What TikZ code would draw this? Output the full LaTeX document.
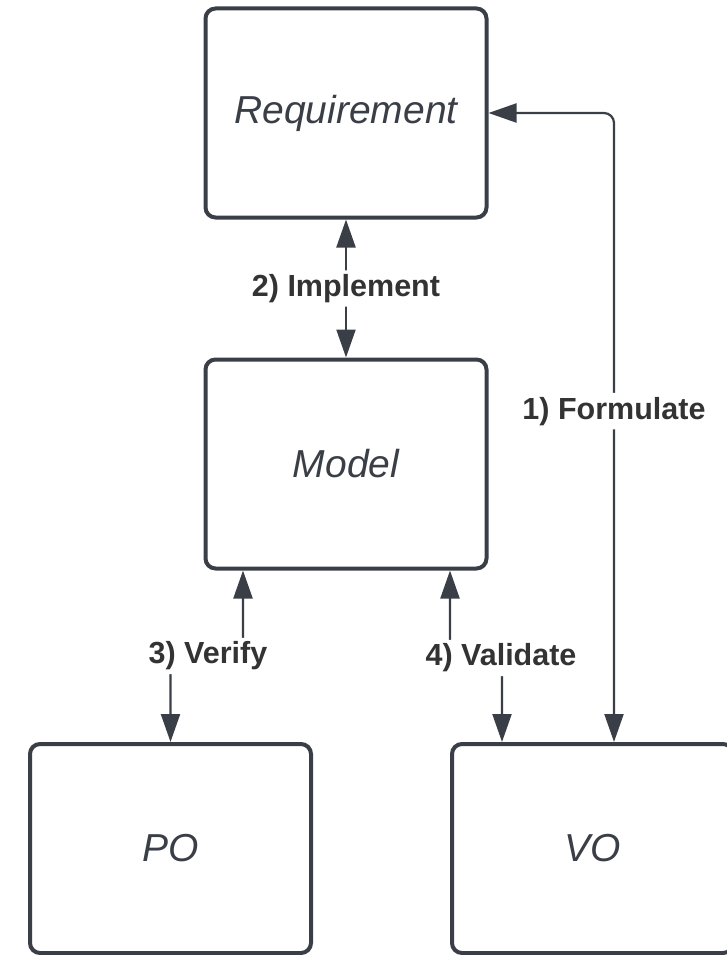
\documentclass[tikz,border=0pt]{standalone}
\usepackage{fontspec}
\setmainfont{Liberation Sans}
\usetikzlibrary{arrows.meta}
\definecolor{linegray}{HTML}{3A3F47}
\definecolor{labgray}{HTML}{333333}
\begin{document}
\begin{tikzpicture}[x=1pt,y=-1pt,
  box/.style = {rectangle,rounded corners=10pt,draw=linegray,line width=4pt,fill=white,
                minimum width=281pt,minimum height=209pt,text=linegray,
                font=\fontsize{39}{41}\selectfont\itshape},
  conn/.style = {draw=linegray,line width=2.2pt,rounded corners=10pt,
                 {Triangle[length=28pt,width=19pt]}-{Triangle[length=28pt,width=19pt]}},
  lab/.style = {fill=white,text=labgray,inner sep=4pt,
                font=\fontsize{30.5}{32}\selectfont\bfseries}]
\clip (0,0) rectangle (727,955);
\foreach \name/\x/\y/\txt in {req/346/113/Requirement, model/346/464/Model,
                              po/170.5/848.5/PO, vo/592.5/848.5/VO}
    \node[box] (\name) at (\x,\y) {\txt};
\coordinate (vmid) at (208,656);
\coordinate (vamid) at (501,658);
\draw[conn] (req) -- (model) node[lab,midway] {2) Implement};
\draw[conn] ([xshift=21.5pt]vo.north) |- (req.east) node[lab,pos=0.263] {1) Formulate};
\draw[conn] ([xshift=-103pt]model.south) |- (vmid) node[lab] {3) Verify} -| (po.north);
\draw[conn] ([xshift=104pt]model.south) |- (vamid) node[lab] {4) Validate} -| ([xshift=-90.5pt]vo.north);
\end{tikzpicture}
\end{document}
